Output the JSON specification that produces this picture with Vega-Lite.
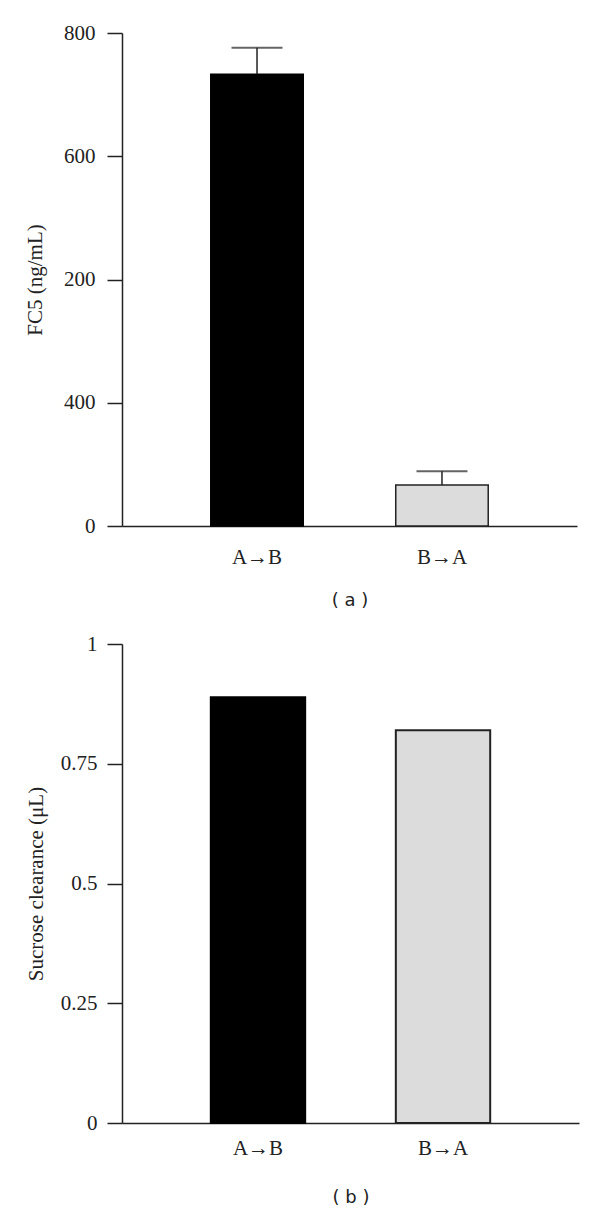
{
  "$schema": "https://vega.github.io/schema/vega-lite/v6.json",
  "background": "white",
  "padding": {"left": 24, "top": 22, "right": 20, "bottom": 5},
  "config": {
    "view": {"stroke": null},
    "axis": {
      "grid": false,
      "domainColor": "#222222",
      "tickColor": "#222222",
      "domainWidth": 1.5,
      "tickWidth": 1.5,
      "labelFont": "Liberation Serif",
      "labelFontSize": 21,
      "labelColor": "#222222",
      "titleFont": "Liberation Serif",
      "titleFontSize": 21,
      "titleFontWeight": "normal",
      "titleColor": "#222222"
    },
    "concat": {"spacing": 24}
  },
  "vconcat": [
    {
      "width": 455,
      "height": 493,
      "data": {"values": [
        {"group": "A→B", "mean": 733, "upper": 776},
        {"group": "B→A", "mean": 66.5, "upper": 89}
      ]},
      "encoding": {
        "x": {
          "field": "group", "type": "nominal", "sort": null,
          "scale": {"paddingInner": 0.5, "paddingOuter": 0.48},
          "axis": {"labelAngle": 0, "ticks": false, "labelPadding": 20, "title": "( a )", "titleFont": "DejaVu Sans", "titleFontSize": 18, "titlePadding": 24}
        }
      },
      "layer": [
        {
          "mark": {"type": "bar", "strokeWidth": 1.5},
          "encoding": {
            "y": {"field": "mean", "type": "quantitative", "scale": {"domain": [0, 800]},
              "axis": {"values": [0, 200, 400, 600, 800], "tickSize": 15, "labelPadding": 12, "title": "FC5 (ng/mL)", "titlePadding": 18,
                "labelExpr": "datum.value == 200 ? '400' : datum.value == 400 ? '200' : datum.label"}},
            "fill": {"field": "group", "type": "nominal", "scale": {"domain": ["A→B", "B→A"], "range": ["#000000", "#dcdcdc"]}, "legend": null},
            "stroke": {"field": "group", "type": "nominal", "scale": {"domain": ["A→B", "B→A"], "range": ["#000000", "#222222"]}, "legend": null}
          }
        },
        {
          "mark": {"type": "rule", "color": "#222222", "strokeWidth": 1.5},
          "encoding": {
            "y": {"field": "mean", "type": "quantitative", "title": "FC5 (ng/mL)"},
            "y2": {"field": "upper"}
          }
        },
        {
          "mark": {"type": "tick", "color": "#222222", "thickness": 2, "size": 51, "orient": "horizontal"},
          "encoding": {
            "y": {"field": "upper", "type": "quantitative", "title": "FC5 (ng/mL)"}
          }
        }
      ]
    },
    {
      "width": 457,
      "height": 479,
      "data": {"values": [
        {"group": "A→B", "clearance": 0.889},
        {"group": "B→A", "clearance": 0.82}
      ]},
      "mark": {"type": "bar", "strokeWidth": 2},
      "encoding": {
        "x": {
          "field": "group", "type": "nominal", "sort": null,
          "scale": {"paddingInner": 0.49, "paddingOuter": 0.48},
          "axis": {"labelAngle": 0, "ticks": false, "labelPadding": 14, "title": "( b )", "titleFont": "DejaVu Sans", "titleFontSize": 18, "titlePadding": 30}
        },
        "y": {"field": "clearance", "type": "quantitative", "scale": {"domain": [0, 1]},
          "axis": {"values": [0, 0.25, 0.5, 0.75, 1], "labelExpr": "'' + datum.value", "tickSize": 15, "labelPadding": 10, "title": "Sucrose clearance (μL)", "titlePadding": 14}},
        "fill": {"field": "group", "type": "nominal", "scale": {"domain": ["A→B", "B→A"], "range": ["#000000", "#dcd8d2"]}, "legend": null},
        "stroke": {"field": "group", "type": "nominal", "scale": {"domain": ["A→B", "B→A"], "range": ["#000000", "#333333"]}, "legend": null}
      }
    }
  ]
}
